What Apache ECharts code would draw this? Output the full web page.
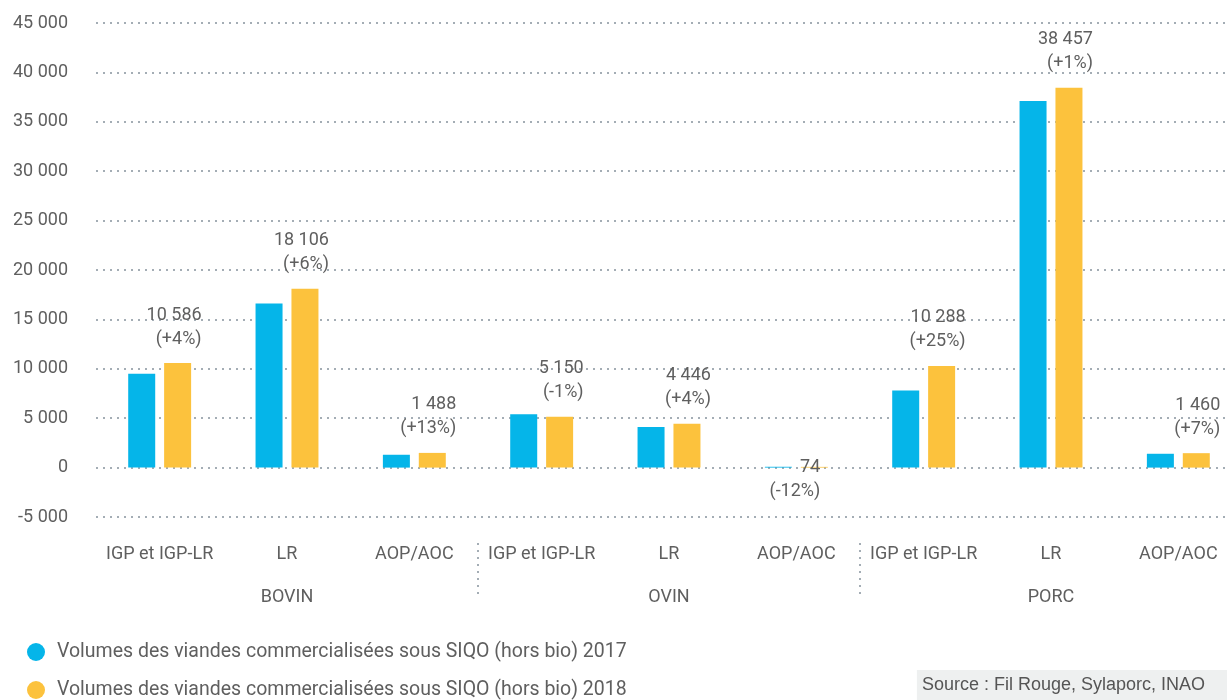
<!DOCTYPE html>
<html>
<head>
<meta charset="utf-8">
<script src="https://cdn.jsdelivr.net/npm/echarts@6/dist/echarts.min.js"></script>
<style>
  html, body { margin: 0; padding: 0; background: #fff; }
  #chart { width: 1227px; height: 700px; }
</style>
</head>
<body>
<div id="chart"></div>
<script>
// sous-catégories et filières
const categories = ['IGP et IGP-LR', 'LR', 'AOP/AOC', 'IGP et IGP-LR', 'LR', 'AOP/AOC', 'IGP et IGP-LR', 'LR', 'AOP/AOC'];
const groups = ['BOVIN', 'OVIN', 'PORC'];

// volumes
const volumes2017 = [9500, 16600, 1300, 5400, 4100, 84, 7800, 37100, 1400];
const volumes2018 = [10586, 18106, 1488, 5150, 4446, 74, 10288, 38457, 1460];
const evolution = ['+4%', '+6%', '+13%', '-1%', '+4%', '-12%', '+25%', '+1%', '+7%'];

const seriesNames = [
  'Volumes des viandes commercialisées sous SIQO (hors bio) 2017',
  'Volumes des viandes commercialisées sous SIQO (hors bio) 2018'
];
const source = 'Source : Fil Rouge, Sylaporc, INAO';

const BLUE = '#05b5e9';
const YELLOW = '#fcc23d';
const TEXT = '#5f5f5f';
const GRID = '#a4adb5';
const FONT = 'Roboto';

const fmt = v => String(v).replace(/\B(?=(\d{3})+(?!\d))/g, ' ');

const chart = echarts.init(document.getElementById('chart'));

const data2018 = volumes2018.map(v => {
  const item = { value: v };
  // la petite valeur ovine est étiquetée sous l'axe
  if (v < 500) item.label = { offset: [6, 49] };
  return item;
});

chart.setOption({
  animation: false,
  textStyle: { fontFamily: FONT },
  grid: { left: 96, top: 23, width: 1146, height: 494, outerBoundsMode: 'none', containLabel: false },
  title: {
    text: source,
    right: 0,
    bottom: 0,
    padding: [6, 22, 6, 5],
    backgroundColor: '#eef0f0',
    textStyle: { fontFamily: 'Liberation Sans', fontSize: 18, fontWeight: 'normal', color: '#555' }
  },
  legend: {
    orient: 'vertical',
    left: 27,
    top: 642,
    height: 80,
    padding: 0,
    icon: 'circle',
    itemWidth: 32,
    itemHeight: 18,
    itemGap: 18,
    textStyle: { fontSize: 19.5, lineHeight: 20, color: TEXT, fontFamily: FONT },
    data: seriesNames
  },
  xAxis: [
    {
      type: 'category',
      data: categories,
      axisLine: { show: false },
      axisTick: { show: false },
      axisLabel: { color: TEXT, fontSize: 18, margin: 28, interval: 0 }
    },
    {
      type: 'category',
      data: groups,
      position: 'bottom',
      offset: 26,
      axisLine: { show: false },
      axisTick: {
        show: true,
        length: 52,
        interval: i => i === 1 || i === 2,
        lineStyle: { color: GRID, width: 2, type: [2, 5] }
      },
      axisLabel: { color: TEXT, fontSize: 18, margin: 45 }
    }
  ],
  yAxis: {
    type: 'value',
    min: -5000,
    max: 45000,
    interval: 5000,
    axisLine: { show: false },
    axisTick: { show: false },
    axisLabel: { color: TEXT, fontSize: 18, margin: 28, formatter: v => fmt(v) },
    splitLine: { lineStyle: { color: GRID, width: 2, type: [2, 5] } }
  },
  series: [
    {
      name: seriesNames[0],
      type: 'bar',
      barWidth: 27,
      barGap: '33%',
      itemStyle: { color: BLUE },
      data: volumes2017
    },
    {
      name: seriesNames[1],
      type: 'bar',
      barWidth: 27,
      itemStyle: { color: YELLOW },
      label: {
        show: true,
        position: 'top',
        distance: 12,
        align: 'right',
        offset: [24, 0],
        color: TEXT,
        fontSize: 18,
        lineHeight: 24,
        formatter: p => fmt(p.value) + '\n(' + evolution[p.dataIndex] + ')'
      },
      data: data2018
    }
  ]
});
</script>
</body>
</html>
